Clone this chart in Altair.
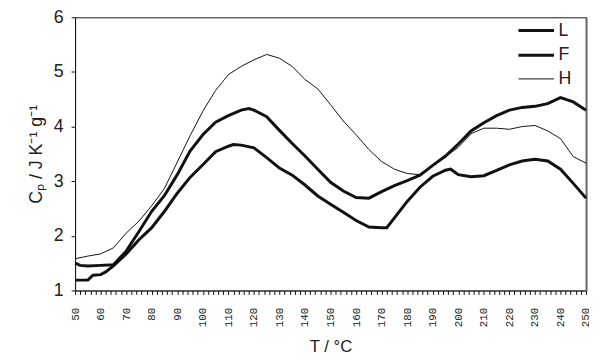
import altair as alt
import pandas as pd

series_names = ["L", "F", "H"]

T_L = [50, 52, 55, 60, 65, 70, 75, 80, 85, 90, 95, 100, 105, 110, 115, 118, 120, 125, 130, 135,
       140, 145, 150, 155, 160, 165, 170, 175, 180, 185, 190, 195, 200, 205, 210, 215, 220, 225,
       230, 235, 240, 245, 250]
Cp_L = [1.50, 1.46, 1.45, 1.46, 1.47, 1.72, 2.08, 2.45, 2.74, 3.12, 3.55, 3.85, 4.08, 4.20, 4.30,
        4.33, 4.30, 4.18, 3.93, 3.69, 3.46, 3.22, 2.98, 2.82, 2.70, 2.69, 2.81, 2.92, 3.01, 3.11,
        3.29, 3.46, 3.68, 3.92, 4.07, 4.20, 4.30, 4.35, 4.37, 4.42, 4.53, 4.45, 4.30]

T_F = [50, 55, 57, 60, 62, 65, 70, 75, 80, 85, 90, 95, 100, 105, 110, 112, 115, 120, 125, 130,
       135, 140, 145, 150, 155, 160, 165, 170, 172, 175, 180, 185, 190, 195, 197, 200, 205, 210,
       215, 220, 225, 230, 235, 240, 245, 250]
Cp_F = [1.19, 1.19, 1.28, 1.29, 1.34, 1.45, 1.67, 1.93, 2.15, 2.45, 2.78, 3.07, 3.30, 3.54, 3.64,
        3.67, 3.66, 3.61, 3.43, 3.24, 3.11, 2.93, 2.73, 2.58, 2.43, 2.28, 2.16, 2.15, 2.15, 2.33,
        2.63, 2.89, 3.09, 3.20, 3.22, 3.12, 3.08, 3.10, 3.20, 3.30, 3.37, 3.40, 3.37, 3.22, 2.96,
        2.69]

T_H = [50, 55, 60, 65, 70, 75, 80, 85, 90, 95, 100, 105, 110, 115, 120, 125, 130, 135, 140, 145,
       150, 155, 160, 165, 170, 175, 180, 185, 190, 195, 200, 205, 210, 215, 220, 225, 230, 235,
       240, 245, 250]
Cp_H = [1.58, 1.63, 1.67, 1.78, 2.05, 2.27, 2.55, 2.87, 3.35, 3.83, 4.28, 4.66, 4.95, 5.10, 5.22,
        5.32, 5.25, 5.10, 4.86, 4.69, 4.40, 4.10, 3.85, 3.58, 3.36, 3.22, 3.14, 3.12, 3.28, 3.45,
        3.62, 3.87, 3.97, 3.97, 3.95, 4.00, 4.02, 3.92, 3.78, 3.45, 3.33]

x_domain = [50, 250]
y_domain = [1, 6]
x_tick_values = list(range(50, 251, 2))
y_tick_values = [1, 2, 3, 4, 5, 6]

df = pd.concat([
    pd.DataFrame({"T": T_L, "Cp": Cp_L, "series": "L"}),
    pd.DataFrame({"T": T_F, "Cp": Cp_F, "series": "F"}),
    pd.DataFrame({"T": T_H, "Cp": Cp_H, "series": "H"}),
], ignore_index=True)

W, H = 518, 277
xscale = alt.Scale(domain=x_domain, nice=False, zero=False)
yscale = alt.Scale(domain=y_domain, nice=False, zero=False)

lines = alt.Chart(df).mark_line(color="#111", interpolate="linear").encode(
    x=alt.X("T:Q", scale=xscale, title="T / °C",
            axis=alt.Axis(values=x_tick_values, labelExpr="datum.value % 10 == 0 ? datum.label : ''",
                          labelAngle=270, labelFont="Liberation Mono", labelFontSize=11,
                          labelOverlap=False, labelFlush=False, labelPadding=13,
                          tickSize=4, tickColor="#111", domainColor="#111", grid=False,
                          titleFont="Liberation Sans", titleFontSize=17, titleFontWeight="normal",
                          titleColor="#222", titlePadding=12, labelColor="#222")),
    y=alt.Y("Cp:Q", scale=yscale, title="Cₚ / J K⁻¹ g⁻¹",
            axis=alt.Axis(values=y_tick_values, labelFont="Liberation Sans", labelFontSize=18,
                          labelColor="#222", tickSize=4, tickColor="#111", domainColor="#111",
                          labelPadding=8, grid=False, titleFont="Liberation Sans",
                          titleFontSize=18, titleFontWeight="normal", titleColor="#222",
                          titlePadding=8)),
    strokeWidth=alt.StrokeWidth("series:N",
                                scale=alt.Scale(type="ordinal", domain=series_names, range=[3, 3, 1]),
                                legend=alt.Legend(title=None, orient="none", legendX=457, legendY=3,
                                                  symbolType="M-2,0H2", symbolSize=324,
                                                  symbolStrokeColor="#111", symbolFillColor="transparent",
                                                  labelFont="Liberation Sans", labelFontSize=18,
                                                  labelColor="#222", rowPadding=5, labelOffset=12)),
    detail="series:N",
)

# frame: top and right border lines drawn as bare axis domains
frame = alt.Chart(df).mark_point(opacity=0).encode(
    x=alt.X("T:Q", scale=xscale, title=None,
            axis=alt.Axis(orient="top", labels=False, ticks=False, grid=False,
                          domainColor="#555", domainWidth=1.2)),
    y=alt.Y("Cp:Q", scale=yscale, title=None,
            axis=alt.Axis(orient="right", labels=False, ticks=False, grid=False,
                          domainColor="#666", domainWidth=2)),
)

chart = alt.layer(lines, frame).resolve_axis(
    x="independent", y="independent"
).properties(
    width=W, height=H,
    background="white",
    autosize=alt.AutoSizeParams(type="none"),
    padding={"left": 68, "top": 7, "right": 3, "bottom": 62},
).configure_view(stroke="#555", strokeWidth=1)

chart.save("out.html", embed_options={"renderer": "svg", "actions": False})
